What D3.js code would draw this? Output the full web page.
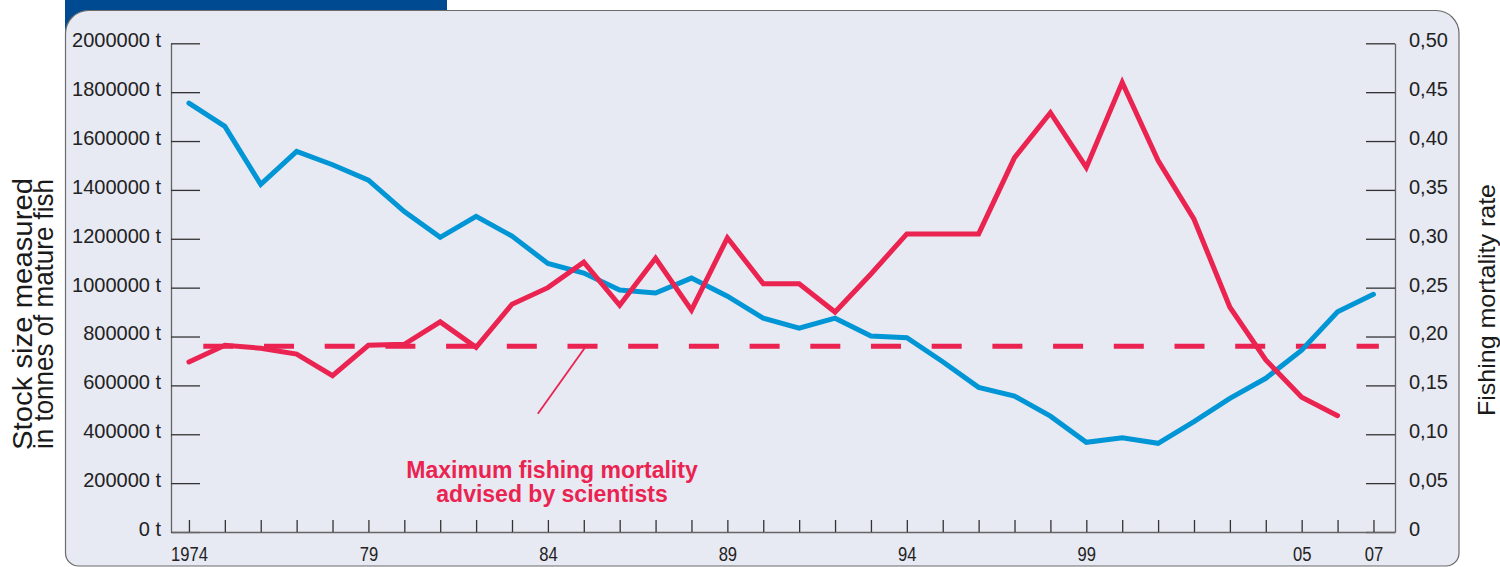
<!DOCTYPE html>
<html>
<head>
<meta charset="utf-8">
<script src="https://cdn.jsdelivr.net/npm/d3@7/dist/d3.min.js"></script>
<style>
  html, body { margin: 0; padding: 0; background: #ffffff; }
  svg { display: block; }
</style>
</head>
<body>
<svg id="chart" width="1500" height="567"></svg>
<script>
// ---------- data ----------
const years = [1974,1975,1976,1977,1978,1979,1980,1981,1982,1983,1984,1985,1986,1987,1988,1989,1990,
               1991,1992,1993,1994,1995,1996,1997,1998,1999,2000,2001,2002,2003,2004,2005,2006,2007];
const stockSize = [1755000,1660000,1423000,1558000,1503000,1440000,1311000,1206000,1292000,1211000,
                   1099000,1060000,990000,978000,1039000,965000,875000,834000,875000,802000,
                   795000,697000,592000,556000,474000,367000,386000,363000,452000,547000,
                   629000,744000,901000,973000];
const mortalityYears = years.slice(0, 33);
const mortality = [0.174,0.191,0.188,0.182,0.160,0.191,0.192,0.215,0.189,0.233,
                   0.250,0.276,0.232,0.280,0.227,0.301,0.254,0.254,0.225,0.264,
                   0.305,0.305,0.305,0.383,0.429,0.373,0.460,0.380,0.320,0.230,
                   0.176,0.138,0.119];
const advisedMax = 0.19;
const advisedSpan = [1974.4, 2007.15];
const leftTicks = [0,200000,400000,600000,800000,1000000,1200000,1400000,1600000,1800000,2000000];
const rightTicks = [0,0.05,0.10,0.15,0.20,0.25,0.30,0.35,0.40,0.45,0.50];
const labelledYears = {1974:"1974",1979:"79",1984:"84",1989:"89",1994:"94",1999:"99",2005:"05",2007:"07"};
const leftTitle = ["Stock size measured", "in tonnes of mature fish"];
const rightTitle = "Fishing mortality rate";
const noteLines = ["Maximum fishing mortality", "advised by scientists"];
const notePointer = [[1983.72, 0.121], [1985.06, 0.19]];

// ---------- styles ----------
const BLUE = "#0096d6", RED = "#ea2350", NAVY = "#004a92", PANEL = "#e7e9f3";
const FONT = "'Liberation Sans', Arial, Helvetica, sans-serif";

const svg = d3.select("#chart");

// tab + panel
svg.append("rect").attr("x", 65).attr("y", -5).attr("width", 382).attr("height", 40).attr("fill", NAVY);
const px0 = 65.5, py0 = 10.5, px1 = 1459, py1 = 566, rT = 23, rB = 13;
svg.append("path")
  .attr("d", `M${px0},${py0 + rT} A${rT},${rT} 0 0 1 ${px0 + rT},${py0} L${px1 - rT},${py0} A${rT},${rT} 0 0 1 ${px1},${py0 + rT} L${px1},${py1 - rB} A${rB},${rB} 0 0 1 ${px1 - rB},${py1} L${px0 + rB},${py1} A${rB},${rB} 0 0 1 ${px0},${py1 - rB} Z`)
  .attr("fill", PANEL).attr("stroke", "#6b6b6b").attr("stroke-width", 1.2);

// scales
const x = d3.scaleLinear().domain([1973.5, 2007.6]).range([171, 1395]);
const yL = d3.scaleLinear().domain([0, 2000000]).range([532, 43.3]);
const yR = d3.scaleLinear().domain([0, 0.5]).range([532, 43.3]);

// axes
const gL = svg.append("g").attr("transform", "translate(171,0)")
  .call(d3.axisLeft(yL).tickValues(leftTicks).tickSizeInner(-29).tickSizeOuter(0).tickPadding(10)
        .tickFormat(d => d + " t"));
const gR = svg.append("g").attr("transform", "translate(1395,0)")
  .call(d3.axisRight(yR).tickValues(rightTicks).tickSizeInner(-29).tickSizeOuter(0).tickPadding(14)
        .tickFormat(d => d === 0 ? "0" : d3.format(".2f")(d).replace(".", ",")));
const gB = svg.append("g").attr("transform", "translate(0,532)")
  .call(d3.axisBottom(x).tickValues(years).tickSizeInner(-12).tickSizeOuter(0).tickPadding(0)
        .tickFormat(d => labelledYears[d] || ""));

[gL, gR, gB].forEach(g => {
  g.attr("font-family", FONT);
  g.select(".domain").attr("stroke", "#666").attr("stroke-width", 1.3);
  g.selectAll(".tick line").attr("stroke", "#333").attr("stroke-width", 1.3);
  g.selectAll("text").attr("fill", "#222").attr("font-size", 20).attr("font-family", FONT);
});
gL.selectAll("text").attr("dy", "0.17em");
gR.selectAll("text").attr("dy", "0.17em");
// condensed year labels: baseline ~28.5px below the axis, glyphs narrowed
gB.selectAll("text").attr("font-size", 21).attr("y", 0).attr("dy", 0)
  .attr("transform", "translate(0,28.5) scale(0.79,1)");

// dashed advised line
svg.append("line")
  .attr("x1", x(advisedSpan[0])).attr("x2", x(advisedSpan[1]))
  .attr("y1", yR(advisedMax)).attr("y2", yR(advisedMax))
  .attr("stroke", RED).attr("stroke-width", 5).attr("stroke-dasharray", "30,30.7");

// lines
const stockLine = d3.line().x((d, i) => x(years[i])).y(d => yL(d));
svg.append("path").datum(stockSize).attr("d", stockLine)
  .attr("fill", "none").attr("stroke", BLUE).attr("stroke-width", 5)
  .attr("stroke-linejoin", "miter").attr("stroke-linecap", "round");

const mortLine = d3.line().x((d, i) => x(mortalityYears[i])).y(d => yR(d));
svg.append("path").datum(mortality).attr("d", mortLine)
  .attr("fill", "none").attr("stroke", RED).attr("stroke-width", 5)
  .attr("stroke-linejoin", "miter").attr("stroke-linecap", "round");

// annotation
svg.append("line")
  .attr("x1", x(notePointer[0][0])).attr("y1", yR(notePointer[0][1]))
  .attr("x2", x(notePointer[1][0])).attr("y2", yR(notePointer[1][1]))
  .attr("stroke", RED).attr("stroke-width", 1.8);
svg.append("text").attr("font-family", FONT).attr("font-weight", "bold").attr("font-size", 23)
  .attr("fill", RED).attr("text-anchor", "middle")
  .selectAll("tspan").data(noteLines).join("tspan")
  .attr("x", 552).attr("y", (d, i) => 478.3 + i * 23.4).text(d => d);

// axis titles
const lt = svg.append("g").attr("transform", "translate(0,314) rotate(-90)");
lt.selectAll("text").data(leftTitle).join("text")
  .attr("font-family", FONT).attr("font-size", 27.5).attr("fill", "#1a1a1a")
  .attr("text-anchor", "middle")
  .attr("x", 0).attr("y", (d, i) => 32 + i * 21.3)
  .attr("textLength", (d, i) => i === 0 ? 272 : 270).attr("lengthAdjust", "spacingAndGlyphs")
  .text(d => d);
svg.append("text").attr("font-family", FONT).attr("font-size", 24).attr("fill", "#1a1a1a")
  .attr("text-anchor", "middle").attr("transform", "translate(1494.5,300) rotate(-90)")
  .attr("x", 0).attr("y", 0)
  .attr("textLength", 232).attr("lengthAdjust", "spacingAndGlyphs")
  .text(rightTitle);
</script>
</body>
</html>
